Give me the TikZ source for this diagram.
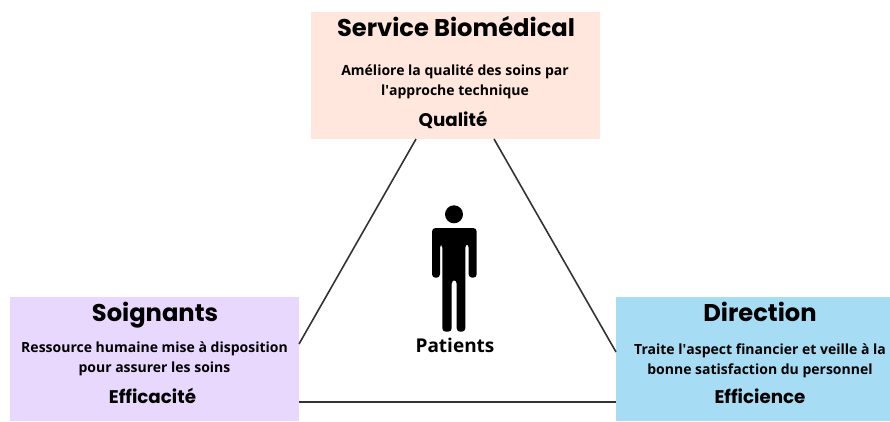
\documentclass[tikz,border=0pt]{standalone}
\usepackage{fontspec}
\setmainfont{Open Sans}
\newfontfamily\titlefont{Poppins}
\definecolor{peach}{HTML}{FFE7DD}
\definecolor{lavender}{HTML}{E9D8FD}
\definecolor{skyblue}{HTML}{A6DDF4}
\definecolor{edgegray}{HTML}{333333}
\begin{document}
\begin{tikzpicture}[x=1pt,y=-1pt]
  \tikzstyle{BoxStyle}=[inner sep=0pt,outer sep=0pt,anchor=center]
  \tikzstyle{TitleStyle}=[inner sep=0pt,font=\titlefont\bfseries\fontsize{24.2}{30}\selectfont]
  \tikzstyle{TextStyle}=[inner sep=0pt,align=center,font=\bfseries\fontsize{14}{20}\selectfont]
  \tikzstyle{KeyStyle}=[inner sep=0pt,font=\titlefont\bfseries\fontsize{18.3}{22}\selectfont]
  \tikzstyle{EdgeStyle}=[draw=edgegray,line width=1.6pt]
  \useasboundingbox (0,0) rectangle (890,421);
  % boxes
  \node [BoxStyle,fill=peach,minimum width=289pt,minimum height=127pt] (biomed) at (455.5,75.5) {};
  \node [BoxStyle,fill=lavender,minimum width=289pt,minimum height=124pt] (soignants) at (154.5,359) {};
  \node [BoxStyle,fill=skyblue,minimum width=274pt,minimum height=124pt] (direction) at (753,359) {};
  % edges
  \draw [EdgeStyle] ([xshift=-39.5pt]biomed.south) -- ([yshift=15pt]soignants.east);
  \draw [EdgeStyle] ([xshift=38.5pt]biomed.south) -- ([yshift=7pt]direction.west);
  \draw [EdgeStyle] ([yshift=-43pt]soignants.east) -- ([yshift=-43pt]direction.west);
  % top
  \node [TitleStyle] (biomedTitle) at (456,27) {Service Biomédical};
  \node [TextStyle] (biomedText) at (455,82) {Améliore la qualité des soins par\\l\textquotesingle approche technique};
  \node [KeyStyle] (biomedKey) at (453,120) {Qualité};
  % left
  \node [TitleStyle] (soignantsTitle) at (155,315) {Soignants};
  \node [TextStyle] (soignantsText) at (154.5,359) {Ressource humaine mise à disposition\\pour assurer les soins};
  \node [KeyStyle] (soignantsKey) at (152.5,396) {Efficacité};
  % right
  \node [TitleStyle] (directionTitle) at (760,312) {Direction};
  \node [TextStyle] (directionText) at (760,361) {Traite l\textquotesingle aspect financier et veille à la\\bonne satisfaction du personnel};
  \node [KeyStyle] (directionKey) at (760,396) {Efficience};
  % patient
  \fill (454,214.3) circle (9);
  \fill [rounded corners=3.5pt] (432,277.7) -- (432,228) -- (476.7,228) -- (476.7,277.7) -- (468.7,277.7) -- (468.7,244) -- (465.3,244) -- (465.3,331.7) -- (456.7,331.7) -- (456.7,280) -- (451.7,280) -- (451.7,331.7) -- (442.3,331.7) -- (442.3,244) -- (440,244) -- (440,277.7) -- cycle;
  \node [inner sep=0pt,font=\bfseries\fontsize{19}{22}\selectfont] (patients) at (455,345) {Patients};
\end{tikzpicture}
\end{document}
